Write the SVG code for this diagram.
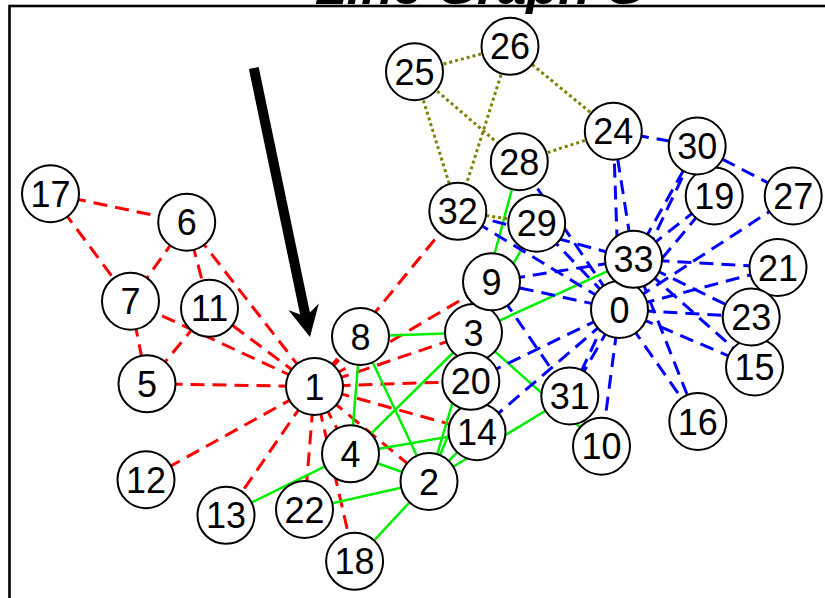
<svg xmlns="http://www.w3.org/2000/svg" width="825" height="598" viewBox="0 0 825 598">
  <style>
    .node circle { fill: #ffffff; stroke: #000000; stroke-width: 2; }
    .node text { font-family: "Liberation Sans", Arial, sans-serif; font-size: 36px; text-anchor: middle; fill: #000000; }
    .r { stroke: #ff0000; stroke-width: 3; stroke-dasharray: 14 8; fill: none; }
    .b { stroke: #0000ff; stroke-width: 3; stroke-dasharray: 14 8; fill: none; }
    .g { stroke: #00ee00; stroke-width: 2.5; fill: none; }
    .o { stroke: #808000; stroke-width: 3; stroke-dasharray: 3 3; fill: none; }
    .title { font-family: "Liberation Sans", Arial, sans-serif; font-size: 50px; font-weight: bold; font-style: italic; fill: #000000; }
  </style>
  <rect width="825" height="598" fill="#ffffff"/>

  <!-- title, mostly above the frame -->
  <text class="title" x="315" y="4" textLength="330" lengthAdjust="spacingAndGlyphs">Line Graph G</text>
  <!-- frame -->
  <rect x="9.5" y="6" width="900" height="700" fill="none" stroke="#000000" stroke-width="2.6"/>

  <g id="edges">
    <!-- red -->
    <line class="r" x1="314.5" y1="386.5" x2="429" y2="481.5"/>
    <line class="r" x1="314.5" y1="386.5" x2="473.5" y2="332.5"/>
    <line class="r" x1="314.5" y1="386.5" x2="350.5" y2="453.8"/>
    <line class="r" x1="314.5" y1="386.5" x2="147" y2="383.8"/>
    <line class="r" x1="314.5" y1="386.5" x2="186.7" y2="222.2"/>
    <line class="r" x1="314.5" y1="386.5" x2="130.5" y2="301.2"/>
    <line class="r" x1="314.5" y1="386.5" x2="360.5" y2="336.5"/>
    <line class="r" x1="314.5" y1="386.5" x2="491.5" y2="281.8"/>
    <line class="r" x1="314.5" y1="386.5" x2="209.5" y2="308.3"/>
    <line class="r" x1="314.5" y1="386.5" x2="146" y2="479.7"/>
    <line class="r" x1="314.5" y1="386.5" x2="226" y2="515.3"/>
    <line class="r" x1="314.5" y1="386.5" x2="477" y2="431.7"/>
    <line class="r" x1="314.5" y1="386.5" x2="354.6" y2="561.3"/>
    <line class="r" x1="314.5" y1="386.5" x2="470.8" y2="381.3"/>
    <line class="r" x1="314.5" y1="386.5" x2="304.5" y2="509.5"/>
    <line class="r" x1="314.5" y1="386.5" x2="457.8" y2="211.3"/>
    <line class="r" x1="50.5" y1="193.7" x2="186.7" y2="222.2"/>
    <line class="r" x1="50.5" y1="193.7" x2="130.5" y2="301.2"/>
    <line class="r" x1="186.7" y1="222.2" x2="130.5" y2="301.2"/>
    <line class="r" x1="186.7" y1="222.2" x2="209.5" y2="308.3"/>
    <line class="r" x1="130.5" y1="301.2" x2="147" y2="383.8"/>
    <line class="r" x1="209.5" y1="308.3" x2="147" y2="383.8"/>
    <!-- green -->
    <line class="g" x1="429" y1="481.5" x2="473.5" y2="332.5"/>
    <line class="g" x1="429" y1="481.5" x2="350.5" y2="453.8"/>
    <line class="g" x1="429" y1="481.5" x2="360.5" y2="336.5"/>
    <line class="g" x1="429" y1="481.5" x2="477" y2="431.7"/>
    <line class="g" x1="429" y1="481.5" x2="354.6" y2="561.3"/>
    <line class="g" x1="429" y1="481.5" x2="470.8" y2="381.3"/>
    <line class="g" x1="429" y1="481.5" x2="304.5" y2="509.5"/>
    <line class="g" x1="429" y1="481.5" x2="569.8" y2="396"/>
    <line class="g" x1="473.5" y1="332.5" x2="350.5" y2="453.8"/>
    <line class="g" x1="473.5" y1="332.5" x2="360.5" y2="336.5"/>
    <line class="g" x1="473.5" y1="332.5" x2="491.5" y2="281.8"/>
    <line class="g" x1="473.5" y1="332.5" x2="601.5" y2="446.2"/>
    <line class="g" x1="473.5" y1="332.5" x2="477" y2="431.7"/>
    <line class="g" x1="473.5" y1="332.5" x2="519.3" y2="161.7"/>
    <line class="g" x1="473.5" y1="332.5" x2="536.7" y2="223.2"/>
    <line class="g" x1="473.5" y1="332.5" x2="633.5" y2="259.3"/>
    <line class="g" x1="350.5" y1="453.8" x2="360.5" y2="336.5"/>
    <line class="g" x1="350.5" y1="453.8" x2="226" y2="515.3"/>
    <line class="g" x1="350.5" y1="453.8" x2="477" y2="431.7"/>
    <!-- blue -->
    <line class="b" x1="619.5" y1="309.5" x2="491.5" y2="281.8"/>
    <line class="b" x1="619.5" y1="309.5" x2="601.5" y2="446.2"/>
    <line class="b" x1="619.5" y1="309.5" x2="477" y2="431.7"/>
    <line class="b" x1="619.5" y1="309.5" x2="754.5" y2="367"/>
    <line class="b" x1="619.5" y1="309.5" x2="697.8" y2="421.5"/>
    <line class="b" x1="619.5" y1="309.5" x2="714.2" y2="196"/>
    <line class="b" x1="619.5" y1="309.5" x2="470.8" y2="381.3"/>
    <line class="b" x1="619.5" y1="309.5" x2="778" y2="267.5"/>
    <line class="b" x1="619.5" y1="309.5" x2="751.2" y2="317"/>
    <line class="b" x1="619.5" y1="309.5" x2="613.3" y2="131.2"/>
    <line class="b" x1="619.5" y1="309.5" x2="793.2" y2="196"/>
    <line class="b" x1="619.5" y1="309.5" x2="519.3" y2="161.7"/>
    <line class="b" x1="619.5" y1="309.5" x2="536.7" y2="223.2"/>
    <line class="b" x1="619.5" y1="309.5" x2="697.2" y2="146"/>
    <line class="b" x1="619.5" y1="309.5" x2="569.8" y2="396"/>
    <line class="b" x1="619.5" y1="309.5" x2="457.8" y2="211.3"/>
    <line class="b" x1="619.5" y1="309.5" x2="633.5" y2="259.3"/>
    <line class="b" x1="633.5" y1="259.3" x2="491.5" y2="281.8"/>
    <line class="b" x1="633.5" y1="259.3" x2="754.5" y2="367"/>
    <line class="b" x1="633.5" y1="259.3" x2="697.8" y2="421.5"/>
    <line class="b" x1="633.5" y1="259.3" x2="714.2" y2="196"/>
    <line class="b" x1="633.5" y1="259.3" x2="778" y2="267.5"/>
    <line class="b" x1="633.5" y1="259.3" x2="751.2" y2="317"/>
    <line class="b" x1="633.5" y1="259.3" x2="613.3" y2="131.2"/>
    <line class="b" x1="633.5" y1="259.3" x2="697.2" y2="146"/>
    <line class="b" x1="633.5" y1="259.3" x2="569.8" y2="396"/>
    <line class="b" x1="633.5" y1="259.3" x2="457.8" y2="211.3"/>
    <line class="b" x1="491.5" y1="281.8" x2="569.8" y2="396"/>
    <line class="b" x1="613.3" y1="131.2" x2="697.2" y2="146"/>
    <line class="b" x1="793.2" y1="196" x2="697.2" y2="146"/>
    <!-- olive -->
    <line class="o" x1="613.3" y1="131.2" x2="510" y2="46.3"/>
    <line class="o" x1="613.3" y1="131.2" x2="519.3" y2="161.7"/>
    <line class="o" x1="414.5" y1="71.7" x2="510" y2="46.3"/>
    <line class="o" x1="414.5" y1="71.7" x2="519.3" y2="161.7"/>
    <line class="o" x1="414.5" y1="71.7" x2="457.8" y2="211.3"/>
    <line class="o" x1="510" y1="46.3" x2="457.8" y2="211.3"/>
    <line class="o" x1="536.7" y1="223.2" x2="457.8" y2="211.3"/>
  </g>

  <g id="nodes">
    <g id="n0" class="node"><circle cx="619.5" cy="309.5" r="28.5"/><text x="619.5" y="322.5">0</text></g>
    <g id="n1" class="node"><circle cx="314.5" cy="386.5" r="28.5"/><text x="314.5" y="399.5">1</text></g>
    <g id="n2" class="node"><circle cx="429" cy="481.5" r="28.5"/><text x="429" y="494.5">2</text></g>
    <g id="n3" class="node"><circle cx="473.5" cy="332.5" r="28.5"/><text x="473.5" y="345.5">3</text></g>
    <g id="n4" class="node"><circle cx="350.5" cy="453.8" r="28.5"/><text x="350.5" y="466.8">4</text></g>
    <g id="n5" class="node"><circle cx="147" cy="383.8" r="28.5"/><text x="147" y="396.8">5</text></g>
    <g id="n6" class="node"><circle cx="186.7" cy="222.2" r="28.5"/><text x="186.7" y="235.2">6</text></g>
    <g id="n7" class="node"><circle cx="130.5" cy="301.2" r="28.5"/><text x="130.5" y="314.2">7</text></g>
    <g id="n8" class="node"><circle cx="360.5" cy="336.5" r="28.5"/><text x="360.5" y="349.5">8</text></g>
    <g id="n9" class="node"><circle cx="491.5" cy="281.8" r="28.5"/><text x="491.5" y="294.8">9</text></g>
    <g id="n10" class="node"><circle cx="601.5" cy="446.2" r="28.5"/><text x="601.5" y="459.2">10</text></g>
    <g id="n11" class="node"><circle cx="209.5" cy="308.3" r="28.5"/><text x="209.5" y="321.3">11</text></g>
    <g id="n12" class="node"><circle cx="146" cy="479.7" r="28.5"/><text x="146" y="492.7">12</text></g>
    <g id="n13" class="node"><circle cx="226" cy="515.3" r="28.5"/><text x="226" y="528.3">13</text></g>
    <g id="n14" class="node"><circle cx="477" cy="431.7" r="28.5"/><text x="477" y="444.7">14</text></g>
    <g id="n15" class="node"><circle cx="754.5" cy="367" r="28.5"/><text x="754.5" y="380">15</text></g>
    <g id="n16" class="node"><circle cx="697.8" cy="421.5" r="28.5"/><text x="697.8" y="434.5">16</text></g>
    <g id="n17" class="node"><circle cx="50.5" cy="193.7" r="28.5"/><text x="50.5" y="206.7">17</text></g>
    <g id="n18" class="node"><circle cx="354.6" cy="561.3" r="28.5"/><text x="354.6" y="574.3">18</text></g>
    <g id="n19" class="node"><circle cx="714.2" cy="196" r="28.5"/><text x="714.2" y="209">19</text></g>
    <g id="n20" class="node"><circle cx="470.8" cy="381.3" r="28.5"/><text x="470.8" y="394.3">20</text></g>
    <g id="n21" class="node"><circle cx="778" cy="267.5" r="28.5"/><text x="778" y="280.5">21</text></g>
    <g id="n22" class="node"><circle cx="304.5" cy="509.5" r="28.5"/><text x="304.5" y="522.5">22</text></g>
    <g id="n23" class="node"><circle cx="751.2" cy="317" r="28.5"/><text x="751.2" y="330">23</text></g>
    <g id="n24" class="node"><circle cx="613.3" cy="131.2" r="28.5"/><text x="613.3" y="144.2">24</text></g>
    <g id="n25" class="node"><circle cx="414.5" cy="71.7" r="28.5"/><text x="414.5" y="84.7">25</text></g>
    <g id="n26" class="node"><circle cx="510" cy="46.3" r="28.5"/><text x="510" y="59.3">26</text></g>
    <g id="n27" class="node"><circle cx="793.2" cy="196" r="28.5"/><text x="793.2" y="209">27</text></g>
    <g id="n28" class="node"><circle cx="519.3" cy="161.7" r="28.5"/><text x="519.3" y="174.7">28</text></g>
    <g id="n29" class="node"><circle cx="536.7" cy="223.2" r="28.5"/><text x="536.7" y="236.2">29</text></g>
    <g id="n30" class="node"><circle cx="697.2" cy="146" r="28.5"/><text x="697.2" y="159">30</text></g>
    <g id="n31" class="node"><circle cx="569.8" cy="396" r="28.5"/><text x="569.8" y="409">31</text></g>
    <g id="n32" class="node"><circle cx="457.8" cy="211.3" r="28.5"/><text x="457.8" y="224.3">32</text></g>
    <g id="n33" class="node"><circle cx="633.5" cy="259.3" r="28.5"/><text x="633.5" y="272.3">33</text></g>
  </g>

  <!-- pointer arrow toward node 1 -->
  <polygon id="pointer" points="258.7,67 309.9,312.5 318.8,303.5 310,337 288.4,309.9 300.1,314.5 248.9,69" fill="#000000"/>
</svg>
